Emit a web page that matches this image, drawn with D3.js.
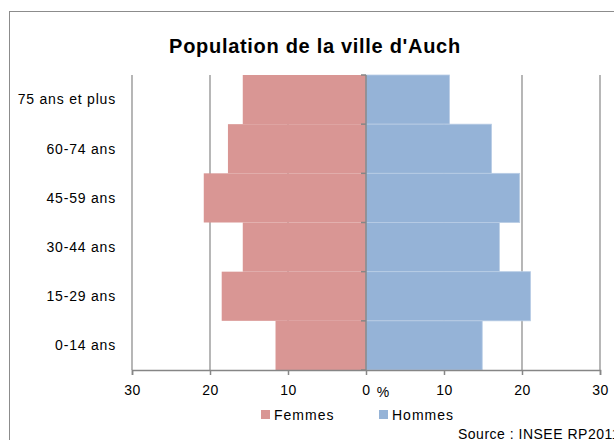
<!DOCTYPE html>
<html>
<head>
<meta charset="utf-8">
<script src="https://cdn.jsdelivr.net/npm/d3@7"></script>
<style>
  body { margin: 0; background: #fff; }
  text { font-family: "Liberation Sans", Arial, sans-serif; fill: #000; }
</style>
</head>
<body>
<div id="chart"></div>
<script>
// age groups, top to bottom
var ageGroups = ["75 ans et plus", "60-74 ans", "45-59 ans", "30-44 ans", "15-29 ans", "0-14 ans"];
var femmes = [15.8, 17.7, 20.8, 15.8, 18.5, 11.6];
var hommes = [10.7, 16.1, 19.7, 17.1, 21.1, 14.9];
var xTicks = [-30, -20, -10, 0, 10, 20, 30];

var width = 614, height = 440;
var plot = {left: 132, right: 600, top: 75, bottom: 370};

var svg = d3.select("#chart").append("svg")
    .attr("width", width)
    .attr("height", height);

// chart frame (runs off the right and bottom edges)
svg.append("rect")
    .attr("x", 9.5).attr("y", 11.5)
    .attr("width", 700).attr("height", 500)
    .attr("fill", "none")
    .attr("stroke", "#8c8c8c")
    .attr("stroke-width", 1);

svg.append("text")
    .attr("x", 315).attr("y", 53)
    .attr("text-anchor", "middle")
    .style("font-size", "20px")
    .style("font-weight", "bold")
    .style("letter-spacing", "0.7px")
    .text("Population de la ville d'Auch");

var x = d3.scaleLinear().domain([-30, 30]).range([plot.left, plot.right]);
var y = d3.scaleBand().domain(ageGroups).range([plot.top, plot.bottom]).padding(0);

// vertical gridlines
svg.append("g").selectAll("line")
    .data(xTicks.filter(function(d) { return d !== 0; }))
    .enter().append("line")
    .attr("x1", function(d) { return x(d); })
    .attr("x2", function(d) { return x(d); })
    .attr("y1", plot.top)
    .attr("y2", plot.bottom)
    .attr("stroke", "#868686")
    .attr("stroke-width", 1.2);

var rows = ageGroups.map(function(g, i) { return {group: g, f: femmes[i], h: hommes[i]}; });

svg.append("g").selectAll("rect")
    .data(rows)
    .enter().append("rect")
    .attr("x", function(d) { return x(-d.f); })
    .attr("y", function(d) { return y(d.group); })
    .attr("width", function(d) { return x(0) - x(-d.f); })
    .attr("height", y.bandwidth())
    .attr("fill", "#d99694");

svg.append("g").selectAll("rect")
    .data(rows)
    .enter().append("rect")
    .attr("x", x(0))
    .attr("y", function(d) { return y(d.group); })
    .attr("width", function(d) { return x(d.h) - x(0); })
    .attr("height", y.bandwidth())
    .attr("fill", "#95b3d7")
    .attr("stroke", "#b9cde5")
    .attr("stroke-width", 0.8);

// x axis
var xAxis = d3.axisBottom(x)
    .tickValues(xTicks)
    .tickSize(5)
    .tickPadding(10)
    .tickFormat(function(d) { return Math.abs(d); });

var gx = svg.append("g")
    .attr("transform", "translate(0," + plot.bottom + ")")
    .call(xAxis);
gx.select(".domain").attr("stroke", "#868686").attr("stroke-width", 1.5);
gx.selectAll(".tick line").attr("stroke", "#868686").attr("stroke-width", 1.5);
gx.selectAll(".tick text")
    .style("font-size", "14px")
    .style("font-family", "'Liberation Sans', Arial, sans-serif")
    .style("letter-spacing", "0.5px");

svg.append("text")
    .attr("x", 383).attr("y", 397)
    .attr("text-anchor", "middle")
    .style("font-size", "14px")
    .text("%");

// centre axis with ticks at category boundaries
var bounds = ageGroups.map(function(g) { return y(g); }).concat([plot.bottom]);
svg.append("line")
    .attr("x1", x(0)).attr("x2", x(0))
    .attr("y1", plot.top).attr("y2", plot.bottom)
    .attr("stroke", "#868686").attr("stroke-width", 1.5);
svg.append("g").selectAll("line")
    .data(bounds)
    .enter().append("line")
    .attr("x1", x(0) - 5).attr("x2", x(0))
    .attr("y1", function(d) { return d; })
    .attr("y2", function(d) { return d; })
    .attr("stroke", "#868686").attr("stroke-width", 1.5);

// category labels
svg.append("g").selectAll("text")
    .data(ageGroups)
    .enter().append("text")
    .attr("x", 116)
    .attr("y", function(d) { return y(d) + y.bandwidth() / 2; })
    .attr("dy", "0.35em")
    .attr("text-anchor", "end")
    .style("font-size", "14px")
    .style("letter-spacing", "0.8px")
    .text(function(d) { return d; });

// legend
var legend = [{name: "Femmes", color: "#d99694", x: 261}, {name: "Hommes", color: "#95b3d7", x: 379}];
var lg = svg.append("g").selectAll("g")
    .data(legend)
    .enter().append("g")
    .attr("transform", function(d) { return "translate(" + d.x + ",410)"; });
lg.append("rect")
    .attr("width", 9).attr("height", 9)
    .attr("fill", function(d) { return d.color; });
lg.append("text")
    .attr("x", 13).attr("y", 5)
    .attr("dy", "0.35em")
    .style("font-size", "14px")
    .style("letter-spacing", "1px")
    .text(function(d) { return d.name; });

svg.append("text")
    .attr("x", 458).attr("y", 439)
    .style("font-size", "14px")
    .style("letter-spacing", "0.5px")
    .text("Source : INSEE RP2011");
</script>
</body>
</html>
